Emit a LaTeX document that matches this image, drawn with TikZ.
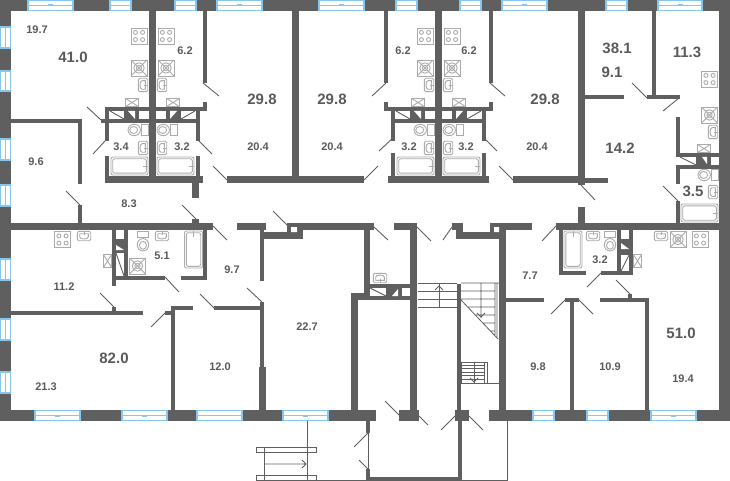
\documentclass[tikz,border=0pt]{standalone}
\usepackage{fontspec}
\setmainfont{Liberation Sans}
\usetikzlibrary{positioning}
\usetikzlibrary{arrows.meta}
\definecolor{wallgray}{HTML}{5F5F5F}
\definecolor{fixgray}{HTML}{ABABAB}
\definecolor{glassblue}{HTML}{84C8F2}
\definecolor{textgray}{HTML}{5A5A5A}
\tikzset{
    wall/.style={fill=wallgray},
    hole/.style={fill=white},
    door/.style={draw=wallgray, line width=0.9pt},
    thinline/.style={draw=wallgray, line width=0.8pt},
    fixture/.style={draw=fixgray, line width=0.9pt, fill=white},
    glass/.style={draw=glassblue, line width=1.1pt, fill=white},
    smallarea/.style={text=textgray, font=\bfseries\fontsize{11}{11}\selectfont, inner sep=0pt},
    bigarea/.style={text=textgray, font=\bfseries\fontsize{15}{15}\selectfont, inner sep=0pt},
    stove/.pic={
        \draw[fixture] (-8,-8) rectangle (8,8);
        \foreach \dx in {-3.6,3.6}
            \foreach \dy in {-3.6,3.6}
                \draw[fixture] (\dx,\dy) circle (2);
    },
    washer/.pic={
        \draw[fixture] (-8,-8) rectangle (8,8);
        \draw[fixture] (-8,-8) -- (8,8) (-8,8) -- (8,-8);
        \draw[fixture, fill=none] (0,0) circle (5.2) (0,0) circle (2.6);
    },
    vent/.pic={
        \draw[fixture] (-6.7,-4.2) rectangle (6.7,4.2);
        \draw[fixture] (-6.7,-4.2) -- (6.7,4.2) (-6.7,4.2) -- (6.7,-4.2);
    },
    basin/.pic={
        \draw[fixture, rounded corners=1.5pt] (-4.7,-6.7) rectangle (4.7,6.7);
        \draw[fixture, fill=none] (2.3,-4.3) -- (-1,-4.3) arc (270:90:2 and 4.3) -- (2.3,4.3) -- cycle;
        \draw[fixture] (0.8,0) -- (4.7,0);
    },
    toilet/.pic={
        \draw[fixture] (3.5,-5.7) rectangle (10,5.7);
        \draw[fixture] (-3.8,0) ellipse (6.2 and 5.7);
        \draw[fixture] (-4.3,0) ellipse (4 and 3.5);
    },
    bath/.pic={
        \draw[fixture, rounded corners=2pt] (-18.5,-9) rectangle (18.5,9);
        \draw[fixture, rounded corners=2pt] (-16.8,-7.2) rectangle (16.8,7.2);
        \draw[fixture] (13,0) -- (18.5,0);
    },
    wetcolumn/.pic={
        \path (-13.5,36) pic {stove};
        \path (-13.5,68) pic {washer};
        \path (-9.5,85) pic {basin};
        \path (-20.5,102.5) pic {vent};
        \path (-14.5,130) pic {toilet};
        \path (-9.5,148) pic {basin};
        \path (-23,166) pic {bath};
    }
}
\begin{document}
\begin{tikzpicture}[x=1pt, y=-1pt]
    \useasboundingbox (0,0) rectangle (730,481);

    % walls
    \foreach \xa/\ya/\xb/\yb in {
        0/0/730/11, 0/0/11/421, 719/0/730/421,
        0/410/376/421, 399/410/419/421, 455/410/469/421, 489/410/730/421,
        149/11/156/183, 203/11/207/83, 203/102/207/111, 105/107/207/111, 101/119/200/123,
        105/107/109/141, 196/107/200/141, 105/156/109/183, 196/156/200/183, 105/176/203/183,
        124/111/139/119, 166/111/181/119,
        192/183/199/198, 192/219/199/223, 11/119/82/123, 78/119/82/184, 78/205/82/223,
        11/223/213/230, 237/223/266/230,
        292/11/299/183, 227/176/364/183,
        384/11/388/83, 384/102/388/111, 384/107/493/111, 391/119/486/123,
        391/107/395/141, 482/107/486/141, 391/153/395/183, 482/153/486/183, 388/176/489/183,
        410/111/425/119, 452/111/467/119,
        435/11/442/183, 489/11/493/83, 489/102/493/111,
        513/176/578/183, 578/11/585/185, 578/207/585/223, 585/178/608/183, 585/95/624/99,
        652/11/656/99, 647/95/680/99, 676/117/680/157, 676/153/719/157, 676/165/719/169,
        696/157/711/165, 676/165/680/184, 676/201/680/223,
        556/223/730/230, 490/223/532/230, 490/223/506/239, 499/223/506/410,
        452/223/463/230, 456/223/463/239, 456/232/506/239,
        394/223/417/230, 410/223/417/410, 457/284/461/410,
        287/223/374/230, 287/223/303/239, 260/232/303/239, 260/230/264/281,
        364/223/370/300, 370/284/410/288, 351/296/410/300, 351/293/370/300, 351/293/358/410,
        386/288/402/296,
        458/421/462/481, 366/421/370/433, 366/469/370/481, 366/477/462/481,
        112/230/116/286, 124/230/128/276, 112/276/165/280, 181/276/207/280, 203/230/207/280,
        116/239/124/253,
        11/311/143/315, 112/307/116/311, 165/311/175/315, 171/306/175/410, 171/306/193/310,
        214/306/260/310, 260/302/264/367, 259/367/266/410,
        506/298/544/302, 565/298/579/302, 570/302/574/410, 600/298/649/302, 628/294/632/298,
        645/302/649/410, 559/230/563/275, 559/271/586/275, 601/271/633/275,
        617/230/621/275, 629/230/633/275, 621/239/629/255}
        \fill[wall] (\xa,\ya) rectangle (\xb,\yb);

    % small holes and triangles in the shafts
    \fill[hole] (291,227) rectangle (297,232) (494,227) rectangle (499,232);
    \fill[hole] (128,111) -- (135,111) -- (135,119) -- cycle
        (177,111) -- (170,111) -- (170,119) -- cycle
        (414,111) -- (421,111) -- (421,119) -- cycle
        (463,111) -- (456,111) -- (456,119) -- cycle
        (702,157) -- (707,157) -- (707,164) -- cycle
        (392,296) -- (398,296) -- (398,289) -- cycle
        (116,245) -- (124,250) -- (116,250) -- cycle
        (621,243) -- (629,249) -- (621,249) -- cycle;

    % windows
    \foreach \xa/\xb in {28/73, 110/131, 175/196, 217/262, 319/364, 396/417, 460/481,
                         502/547, 606/627, 658/702}
        \draw[glass] (\xa,0.5) rectangle (\xb,10.5) (\xa,5.5) -- (\xb,5.5);
    \foreach \xa/\xb in {35/80, 122/167, 197/242, 283/328, 533/554, 587/608, 651/696}
        \draw[glass] (\xa,410.5) rectangle (\xb,420.5) (\xa,415.5) -- (\xb,415.5);
    \foreach \ya/\yb in {27/48, 71/91, 139/160, 185/206, 259/280, 319/340, 372/393}
        \draw[glass] (0.5,\ya) rectangle (10.5,\yb) (5.5,\ya) -- (5.5,\yb);
    \foreach \mx/\my in {50.5/5.5, 239.5/5.5, 341.5/5.5, 524.5/5.5, 680/5.5,
                         57.5/415.5, 144.5/415.5, 305.5/415.5, 673.5/415.5}
        \draw[glassblue, line width=2pt] (\mx-2.5,\my) -- (\mx+2.5,\my);

    % doors
    \foreach \xa/\ya/\xb/\yb in {
        87/107/101/120, 93/154/105/141, 199/141/212/154, 203/83/219/96, 213/166/227/180,
        66/191/80/205, 182/205/196/219, 213/226/227/240, 273/211/287/225,
        372/96/386/83, 379/151/393/138, 364/180/378/166, 374/227/388/240, 417/227/431/241,
        443/240/452/227, 484/138/497/151, 490/83/505/96, 499/166/513/180,
        632/83/647/98, 663/111/679/98, 581/185/595/200, 663/186/678/201, 542/241/556/226,
        165/277/179/292, 200/294/214/308, 100/293/114/307, 151/327/165/313, 247/288/262/302,
        385/401/399/415, 419/416/428/425, 441/430/455/416, 469/416/483/430,
        354/447/368/433, 359/460/368/469,
        551/314/565/300, 579/300/593/314, 587/287/601/273, 616/280/630/294,
        110/111/124/119, 181/119/195/111, 396/111/410/119, 467/119/481/111,
        680/157/696/165, 370/288/386/296, 116/253/124/276, 621/271/629/255}
        \draw[door] (\xa,\ya) -- (\xb,\yb);

    % stairs and entrance
    \draw[thinline] (418,283) -- (457,283) (418,291) -- (457,291) (418,299) -- (457,299)
        (418,307) -- (457,307) (439,283) -- (439,307);
    \draw[thinline] (461,283) -- (499,283) (461,291) -- (495,291) (461,299) -- (495,299)
        (468,307) -- (495,307) (476,315) -- (495,315) (483,323) -- (495,323) (490,331) -- (495,331)
        (481,283) -- (481,318) (495,283) -- (495,335) (497,283) -- (497,337)
        (461,300) -- (498,339);
    \draw[thinline] (435,290) -- (439,286) -- (443,290) (477,313) -- (481,317) -- (485,313);
    \draw[thinline] (461,362) rectangle (487,383) (484,362) -- (484,383) (474,362) -- (474,383)
        (461,383) -- (499,383);
    \foreach \sy in {365,368,372,375,379}
        \draw[thinline] (461,\sy) -- (484,\sy);
    \draw[thinline] (470,378) -- (474,382) -- (478,378);
    \draw[thinline] (307,421) -- (307,481) (507,421) -- (507,481) (256,480) -- (366,480) (462,480) -- (507,480);
    \draw[thinline] (368,433) -- (368,469);
    \draw[thinline] (256,447) rectangle (316,452) (256,475) rectangle (316,480) (264,447) -- (264,480);
    \draw[thinline] (264,464) -- (306,464) (302,460) -- (306,464) -- (302,468);

    % kitchens and bathrooms
    \path (152.5,0) pic {wetcolumn} (152.5,0) pic[xscale=-1] {wetcolumn};
    \path (438.5,0) pic {wetcolumn} (438.5,0) pic[xscale=-1] {wetcolumn};
    \path (709.5,79) pic {stove} (709.5,115) pic {washer} (713,132) pic {basin}
        (704,148.5) pic {vent} (708,175) pic {toilet} (713,192) pic {basin} (699.5,213) pic {bath};
    \path (62.5,239.5) pic {stove} (84,236) pic[rotate=90] {basin}
        (107.5,261) pic[rotate=90] {vent} (143,241) pic[rotate=90] {toilet}
        (162,236) pic[rotate=90] {basin} (137.5,266) pic {washer} (193.5,249.5) pic[rotate=90] {bath};
    \path (573,249.5) pic[rotate=90] {bath} (593,236) pic[rotate=90] {basin}
        (610,241) pic[rotate=90] {toilet} (637.5,261) pic[rotate=90] {vent}
        (661,236) pic[rotate=90] {basin} (678,239.5) pic {washer} (700,239.5) pic {stove};
    \path (380,278) pic[rotate=-90] {basin};

    % area labels
    \foreach \px/\py/\txt [count=\n] in {
        37/30/19.7, 185/51/6.2, 121/147/3.4, 182/147/3.2, 36/162/9.6, 129/204/8.3,
        258/147/20.4, 332/147/20.4, 403/51/6.2, 469/51/6.2, 409/147/3.2, 466/147/3.2,
        537/147/20.4, 232/270/9.7, 162/256/5.1, 64/287/11.2, 46/387/21.3, 220/367/12.0,
        307/327/22.7, 530/276/7.7, 600/260/3.2, 538/367/9.8, 610/367/10.9, 683/379/19.4}
        \node[smallarea] (small\n) at (\px,\py) {\txt};
    \foreach \px/\py/\txt [count=\n] in {
        73/57/41.0, 262/99/29.8, 332/99/29.8, 545/99/29.8, 617/48/38.1, 612/72/9.1,
        687/52/11.3, 620/148/14.2, 693/191/3.5, 114/358/82.0, 681/333/51.0}
        \node[bigarea] (big\n) at (\px,\py) {\txt};
\end{tikzpicture}
\end{document}
